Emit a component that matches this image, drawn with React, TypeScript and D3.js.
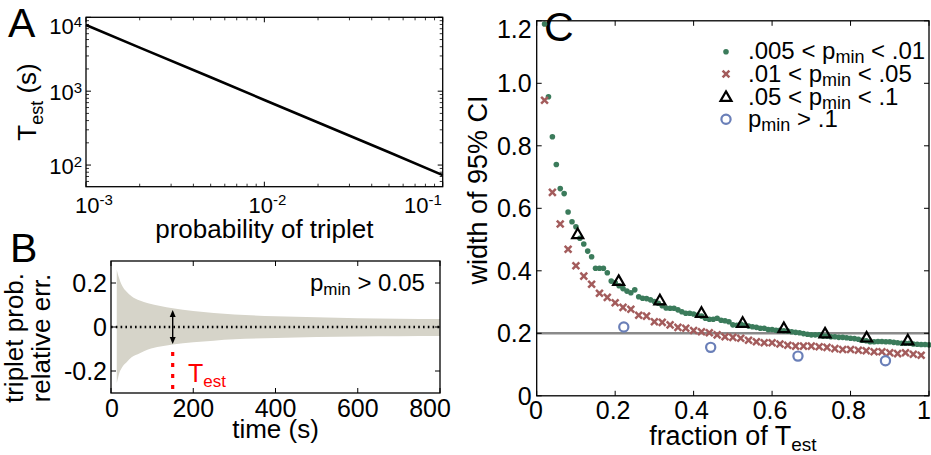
import React from "react";
import * as d3 from "d3";

// ---------- Panel A data ----------
const probTriplet = [0.001, 0.002, 0.005, 0.01, 0.02, 0.05, 0.1];
const tEstSeconds = [7870, 3890, 1540, 760, 376, 149, 73];
const aXTicks = [0.001, 0.01, 0.1];
const aXTickExp = ["-3", "-2", "-1"];
const aYTicks = [100, 1000, 10000];
const aYTickExp = ["2", "3", "4"];

// ---------- Panel B data ----------
const bTime = [14, 16, 20, 25, 30, 38, 50, 70, 90, 120, 150, 200, 250, 300, 400, 500, 600, 700, 800];
const bUpper = [0.26, 0.245, 0.22, 0.195, 0.178, 0.16, 0.14, 0.12, 0.108, 0.095, 0.085, 0.073, 0.064, 0.057, 0.049, 0.044, 0.04, 0.038, 0.036];
const bLower = [-0.255, -0.24, -0.21, -0.19, -0.175, -0.16, -0.138, -0.119, -0.102, -0.089, -0.079, -0.069, -0.062, -0.056, -0.05, -0.045, -0.043, -0.042, -0.041];
const bXTicks = [0, 200, 400, 600, 800];
const bYTicks = [-0.2, 0, 0.2];
const bTest = 150;
const bArrowTop = 0.077;
const bArrowBottom = -0.077;

// ---------- Panel C data ----------
const greenX = [0.02,0.03,0.04,0.05,0.06,0.07,0.08,0.09,0.10,0.11,0.12,0.13,0.14,0.15,0.16,0.17,0.18,0.19,0.20,0.21,0.22,0.23,0.24,0.25,0.26,0.27,0.28,0.29,0.30,0.31,0.32,0.33,0.34,0.35,0.36,0.37,0.38,0.39,0.40,0.41,0.42,0.43,0.44,0.45,0.46,0.47,0.48,0.49,0.50,0.51,0.52,0.53,0.54,0.55,0.56,0.57,0.58,0.59,0.60,0.61,0.62,0.63,0.64,0.65,0.66,0.67,0.68,0.69,0.70,0.71,0.72,0.73,0.74,0.75,0.76,0.77,0.78,0.79,0.80,0.81,0.82,0.83,0.84,0.85,0.86,0.87,0.88,0.89,0.90,0.91,0.92,0.93,0.94,0.95,0.96,0.97,0.98,0.99,1.00];
const greenY = [1.19,0.957,0.829,0.740,0.663,0.647,0.588,0.557,0.541,0.504,0.486,0.463,0.445,0.408,0.408,0.408,0.394,0.367,0.362,0.352,0.343,0.335,0.330,0.339,0.317,0.312,0.311,0.307,0.302,0.296,0.288,0.281,0.280,0.280,0.275,0.269,0.264,0.264,0.262,0.258,0.255,0.248,0.245,0.245,0.248,0.242,0.240,0.237,0.227,0.226,0.230,0.226,0.223,0.221,0.219,0.216,0.216,0.212,0.212,0.210,0.210,0.208,0.207,0.205,0.203,0.202,0.199,0.197,0.195,0.195,0.195,0.191,0.191,0.189,0.189,0.187,0.187,0.186,0.184,0.183,0.181,0.178,0.176,0.173,0.173,0.174,0.174,0.173,0.173,0.171,0.170,0.168,0.168,0.168,0.166,0.165,0.164,0.164,0.163];
const redX = [0.02,0.04,0.06,0.08,0.10,0.12,0.14,0.16,0.18,0.20,0.22,0.24,0.26,0.28,0.30,0.32,0.34,0.36,0.38,0.40,0.42,0.44,0.46,0.48,0.50,0.52,0.54,0.56,0.58,0.60,0.62,0.64,0.66,0.68,0.70,0.72,0.74,0.76,0.78,0.80,0.82,0.84,0.86,0.88,0.90,0.92,0.94,0.96,0.98];
const redY = [0.946,0.651,0.55,0.469,0.416,0.383,0.357,0.328,0.315,0.298,0.283,0.277,0.258,0.255,0.237,0.235,0.227,0.219,0.216,0.209,0.205,0.202,0.195,0.189,0.187,0.184,0.178,0.173,0.170,0.170,0.166,0.162,0.159,0.159,0.159,0.157,0.155,0.151,0.148,0.148,0.146,0.144,0.141,0.141,0.138,0.135,0.138,0.133,0.130];
const triX = [0.1045, 0.209, 0.314, 0.42, 0.525, 0.63, 0.735, 0.841, 0.946];
const triY = [0.515, 0.365, 0.303, 0.263, 0.231, 0.214, 0.197, 0.184, 0.175];
const circX = [0.222, 0.4435, 0.666, 0.889];
const circY = [0.22, 0.155, 0.127, 0.112];
const cRefLine = 0.2;
const cXTicks = [0, 0.2, 0.4, 0.6, 0.8, 1];
const cXTickLabels = ["0", "0.2", "0.4", "0.6", "0.8", "1"];
const cYTicks = [0, 0.2, 0.4, 0.6, 0.8, 1.0, 1.2];
const cYTickLabels = ["0", "0.2", "0.4", "0.6", "0.8", "1.0", "1.2"];
const legendLabels = [
  [".005 < p", "min", " < .01"],
  [".01 < p", "min", " < .05"],
  [".05 < p", "min", " < .1"],
  ["p", "min", " > .1"],
];

const FONT = "'Liberation Sans', Arial, Helvetica, sans-serif";
const GREEN = "#3b7b5b";
const RED = "#a35c5c";
const BLUE = "#6a7fb8";
const BAND = "#d6d4c9";

const clamp = (v: number, lo: number, hi: number) => Math.max(lo, Math.min(hi, v));

function Frame({ x0, x1, y0, y1 }: { x0: number; x1: number; y0: number; y1: number }) {
  return <rect x={x0} y={y0} width={x1 - x0} height={y1 - y0} fill="none" stroke="#000" strokeWidth={1.3} />;
}

function Cross({ x, y, s, color }: { x: number; y: number; s: number; color: string }) {
  return (
    <g stroke={color} strokeWidth={2.5} strokeLinecap="butt">
      <line x1={x - s} y1={y - s} x2={x + s} y2={y + s} />
      <line x1={x - s} y1={y + s} x2={x + s} y2={y - s} />
    </g>
  );
}

function Tri({ x, y, s }: { x: number; y: number; s: number }) {
  const h = s * Math.sqrt(3) / 2;
  const d = `M${x},${y - (2 * h) / 3}L${x + s / 2},${y + h / 3}L${x - s / 2},${y + h / 3}Z`;
  return <path d={d} fill="none" stroke="#000" strokeWidth={2.2} strokeLinejoin="miter" />;
}

export default function App() {
  // ----- Panel A -----
  const aL = 86, aR = 442.7, aT = 17.3, aB = 186.7;
  const xA = d3.scaleLog().domain([1e-3, 1e-1]).range([aL, aR]);
  const yA = d3.scaleLog().domain([Math.pow(10, 1.707), 1e4]).range([aB, aT]);
  const lineA = d3.line<number>().x((d, i) => xA(probTriplet[i])).y((d) => yA(d));
  const aXMinor: number[] = [];
  [0.001, 0.01].forEach((b) => { for (let k = 2; k <= 9; k++) aXMinor.push(b * k); });
  const aYMinor: number[] = [];
  [10, 100, 1000].forEach((b) => { for (let k = 2; k <= 9; k++) { const v = b * k; if (yA(v) <= aB && yA(v) >= aT) aYMinor.push(v); } });

  // ----- Panel B -----
  const bL = 111, bR = 440, bT = 261, bB = 393;
  const xB = d3.scaleLinear().domain([0, 800]).range([bL, bR]);
  const yB = d3.scaleLinear().domain([-0.3, 0.3]).range([bB, bT]);
  const area = d3.area<number>()
    .x((d, i) => xB(bTime[i]))
    .y0((d, i) => yB(bLower[i]))
    .y1((d) => yB(d))
    .curve(d3.curveMonotoneX);
  const ax = xB(bTest);
  const ay1 = yB(bArrowTop), ay2 = yB(bArrowBottom);

  // ----- Panel C -----
  const cL = 536.7, cR = 929, cT = 20.8, cB = 395.8;
  const xC = d3.scaleLinear().domain([0, 1]).range([cL, cR]);
  const yC = d3.scaleLinear().domain([0, 1.2]).range([cB, cT]);

  const tick = 5;
  const legendY = [51.7, 74, 97.7, 119.3];
  return (
    <svg width={931} height={455} style={{ position: "absolute", left: 0, top: 0, background: "#fff" }} fontFamily={FONT}>
      <rect x={0} y={0} width={931} height={455} fill="#fff" />
      {/* ================= Panel A ================= */}
      <text x={8} y={37} fontSize={41}>A</text>
      <path d={lineA(tEstSeconds) || ""} fill="none" stroke="#000" strokeWidth={2.6} />
      <Frame x0={aL} x1={aR} y0={aT} y1={aB} />
      {aXTicks.map((t) => (
        <g key={"axt" + t} stroke="#000" strokeWidth={1}>
          <line x1={xA(t)} x2={xA(t)} y1={aB} y2={aB - tick} />
          <line x1={xA(t)} x2={xA(t)} y1={aT} y2={aT + tick} />
        </g>
      ))}
      {aXMinor.map((t) => (
        <g key={"axm" + t} stroke="#000" strokeWidth={0.8}>
          <line x1={xA(t)} x2={xA(t)} y1={aB} y2={aB - 3} />
          <line x1={xA(t)} x2={xA(t)} y1={aT} y2={aT + 3} />
        </g>
      ))}
      {aYTicks.map((t) => (
        <g key={"ayt" + t} stroke="#000" strokeWidth={1}>
          <line x1={aL} x2={aL + tick} y1={yA(t)} y2={yA(t)} />
          <line x1={aR} x2={aR - tick} y1={yA(t)} y2={yA(t)} />
        </g>
      ))}
      {aYMinor.map((t) => (
        <g key={"aym" + t} stroke="#000" strokeWidth={0.8}>
          <line x1={aL} x2={aL + 3} y1={yA(t)} y2={yA(t)} />
          <line x1={aR} x2={aR - 3} y1={yA(t)} y2={yA(t)} />
        </g>
      ))}
      {aXTicks.map((t, i) => (
        <text key={"axl" + t} x={clamp(xA(t) + 3, 94, 423)} y={213} fontSize={22} textAnchor="middle">
          10<tspan fontSize={15} dy={-8}>{aXTickExp[i]}</tspan>
        </text>
      ))}
      {aYTicks.map((t, i) => (
        <text key={"ayl" + t} x={82} y={Math.max(yA(t) + 1.5, 26) + 7.8} fontSize={22} textAnchor="end">
          10<tspan fontSize={15} dy={-7}>{aYTickExp[i]}</tspan>
        </text>
      ))}
      <text x={(aL + aR) / 2} y={238} fontSize={26} textAnchor="middle">probability of triplet</text>
      <text transform={`translate(36,${(aT + aB) / 2}) rotate(-90)`} fontSize={26} textAnchor="middle">
        T<tspan fontSize={18} dy={7}>est</tspan><tspan dy={-7}> (s)</tspan>
      </text>

      {/* ================= Panel B ================= */}
      <text x={10} y={262} fontSize={41}>B</text>
      <path d={area(bUpper) || ""} fill={BAND} stroke="none" />
      <line x1={bL} x2={bR} y1={yB(0)} y2={yB(0)} stroke="#000" strokeWidth={2.4} strokeDasharray="1.6,3.2" />
      <line x1={ax} x2={ax} y1={ay1 + 5} y2={ay2 - 5} stroke="#000" strokeWidth={1.4} />
      <path d={`M${ax},${ay1}L${ax - 3},${ay1 + 7}L${ax + 3},${ay1 + 7}Z`} fill="#000" />
      <path d={`M${ax},${ay2}L${ax - 3},${ay2 - 7}L${ax + 3},${ay2 - 7}Z`} fill="#000" />
      <line x1={ax} x2={ax} y1={352} y2={bB} stroke="#ff0000" strokeWidth={3.2} strokeDasharray="4,7" />
      <text x={188} y={382} fontSize={25} fill="#ff0000">
        T<tspan fontSize={17} dy={5}>est</tspan>
      </text>
      <text x={310} y={291} fontSize={24}>
        p<tspan fontSize={17} dy={4}>min</tspan><tspan dy={-4}> &gt; 0.05</tspan>
      </text>
      <Frame x0={bL} x1={bR} y0={bT} y1={bB} />
      {bXTicks.map((t) => (
        <g key={"bxt" + t} stroke="#000" strokeWidth={1}>
          <line x1={xB(t)} x2={xB(t)} y1={bB} y2={bB - tick} />
          <line x1={xB(t)} x2={xB(t)} y1={bT} y2={bT + tick} />
        </g>
      ))}
      {bYTicks.map((t) => (
        <g key={"byt" + t} stroke="#000" strokeWidth={1}>
          <line x1={bL} x2={bL + tick} y1={yB(t)} y2={yB(t)} />
          <line x1={bR} x2={bR - tick} y1={yB(t)} y2={yB(t)} />
        </g>
      ))}
      {bXTicks.map((t) => (
        <text key={"bxl" + t} x={clamp(xB(t), 112, 430)} y={417} fontSize={25} textAnchor="middle">{String(t)}</text>
      ))}
      {bYTicks.map((t) => (
        <text key={"byl" + t} x={107} y={yB(t)} dy="0.36em" fontSize={25} textAnchor="end">{t === 0 ? "0" : (t < 0 ? "-" : "") + Math.abs(t).toFixed(1)}</text>
      ))}
      <text x={(bL + bR) / 2} y={438} fontSize={26} textAnchor="middle">time (s)</text>
      <text transform={`translate(23,338) rotate(-90)`} fontSize={26} textAnchor="middle">triplet prob.</text>
      <text transform={`translate(50,338) rotate(-90)`} fontSize={26} textAnchor="middle">relative err.</text>

      {/* ================= Panel C ================= */}
      <text x={544} y={41} fontSize={41}>C</text>
      <line x1={cL} x2={cR} y1={yC(cRefLine)} y2={yC(cRefLine)} stroke="#8a8a8a" strokeWidth={2.6} />
      {greenY.map((v, i) => (
        <circle key={"g" + i} cx={xC(greenX[i])} cy={yC(v)} r={2.8} fill={GREEN} />
      ))}
      {redY.map((v, i) => (
        <Cross key={"r" + i} x={xC(redX[i])} y={yC(v)} s={3.4} color={RED} />
      ))}
      {triY.map((v, i) => (
        <Tri key={"t" + i} x={xC(triX[i])} y={yC(v)} s={11} />
      ))}
      {circY.map((v, i) => (
        <circle key={"c" + i} cx={xC(circX[i])} cy={yC(v)} r={4.6} fill="none" stroke={BLUE} strokeWidth={2.2} />
      ))}
      <Frame x0={cL} x1={cR} y0={cT} y1={cB} />
      {cXTicks.map((t) => (
        <g key={"cxt" + t} stroke="#000" strokeWidth={1}>
          <line x1={xC(t)} x2={xC(t)} y1={cB} y2={cB - tick} />
          <line x1={xC(t)} x2={xC(t)} y1={cT} y2={cT + tick} />
        </g>
      ))}
      {cYTicks.map((t) => (
        <g key={"cyt" + t} stroke="#000" strokeWidth={1}>
          <line x1={cL} x2={cL + tick} y1={yC(t)} y2={yC(t)} />
          <line x1={cR} x2={cR - tick} y1={yC(t)} y2={yC(t)} />
        </g>
      ))}
      {cXTicks.map((t, i) => (
        <text key={"cxl" + t} x={clamp(xC(t) - 2, 536, 924)} y={419} fontSize={25} textAnchor="middle">{cXTickLabels[i]}</text>
      ))}
      {cYTicks.map((t, i) => (
        <text key={"cyl" + t} x={531.7} y={Math.max(yC(t), 28.5)} dy="0.36em" fontSize={25} textAnchor="end">{cYTickLabels[i]}</text>
      ))}
      <text x={(cL + cR) / 2} y={445} fontSize={27} textAnchor="middle">
        fraction of T<tspan fontSize={19} dy={6}>est</tspan>
      </text>
      <text transform={`translate(487,190) rotate(-90)`} fontSize={27} textAnchor="middle">width of 95% CI</text>

      {/* legend */}
      <circle cx={726} cy={legendY[0]} r={2.8} fill={GREEN} />
      <Cross x={726} y={legendY[1]} s={3.4} color={RED} />
      <Tri x={726} y={legendY[2]} s={11} />
      <circle cx={726} cy={legendY[3]} r={4.6} fill="none" stroke={BLUE} strokeWidth={2.2} />
      {legendLabels.map((parts, i) => (
        <text key={"lg" + i} x={748} y={legendY[i] + 7.5} fontSize={24}>
          {parts[0]}<tspan fontSize={18} dy={4}>{parts[1]}</tspan><tspan dy={-4}>{parts[2]}</tspan>
        </text>
      ))}
    </svg>
  );
}
